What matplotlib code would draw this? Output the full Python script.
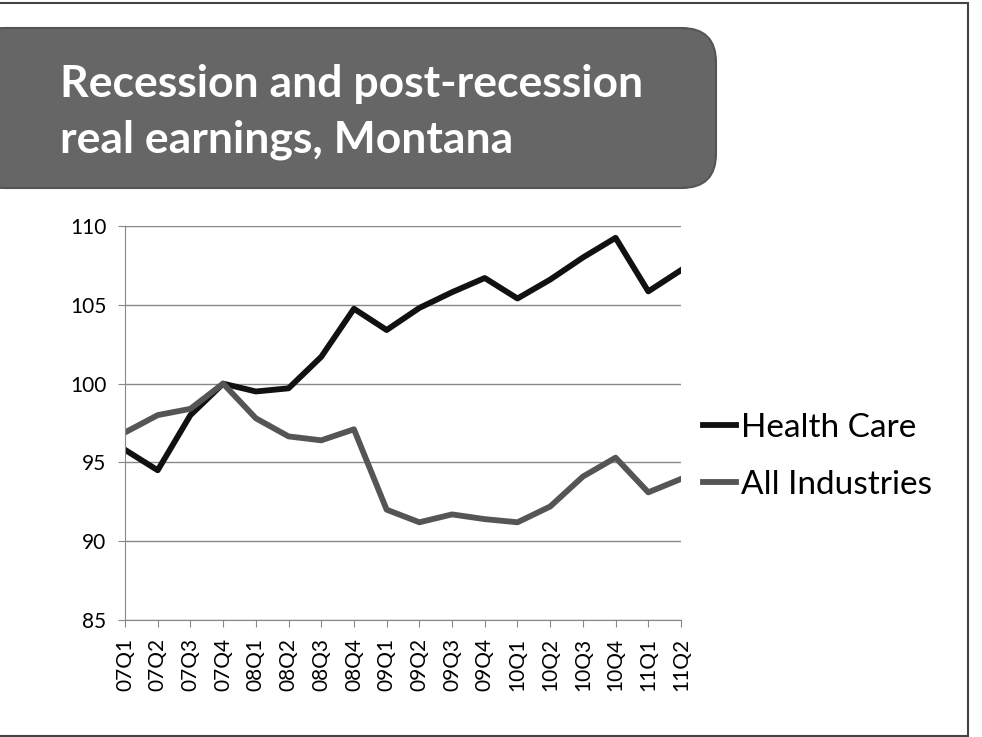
import matplotlib.pyplot as plt
from matplotlib.patches import FancyBboxPatch, Rectangle

quarters = ['07Q1', '07Q2', '07Q3', '07Q4', '08Q1', '08Q2', '08Q3', '08Q4',
            '09Q1', '09Q2', '09Q3', '09Q4', '10Q1', '10Q2', '10Q3', '10Q4',
            '11Q1', '11Q2']
health_care = [95.8, 94.5, 98.0, 100.0, 99.5, 99.7, 101.7, 104.75, 103.4,
               104.8, 105.8, 106.7, 105.4, 106.6, 108.0, 109.25, 105.85, 107.2]
all_industries = [96.9, 98.0, 98.4, 100.0, 97.8, 96.65, 96.4, 97.1, 92.0,
                  91.2, 91.7, 91.4, 91.2, 92.2, 94.1, 95.3, 93.1, 93.95]
y_ticks = [85, 90, 95, 100, 105, 110]

plt.rcParams['font.family'] = ['Lato', 'DejaVu Sans']

fig = plt.figure(figsize=(9.82, 7.37), dpi=100)
W, H = 982, 737

# slide border
fig.patches.append(Rectangle((-0.01, 1.5 / H), 1 - 4 / W, 1 - 4 / H,
                             transform=fig.transFigure, fill=False,
                             edgecolor='#444444', linewidth=1.5))

# title box
fig.patches.append(FancyBboxPatch((-30 / W, 1 - 188 / H), 746 / W, 160 / H,
                                  boxstyle='round,pad=0,rounding_size=0.035',
                                  transform=fig.transFigure,
                                  facecolor='#666666', edgecolor='#555555',
                                  linewidth=1.5, mutation_aspect=W / H))
fig.text(60 / W, 1 - 97 / H, 'Recession and post-recession',
         color='white', fontsize=32, fontweight='bold', va='baseline')
fig.text(60 / W, 1 - 153 / H, 'real earnings, Montana',
         color='white', fontsize=32, fontweight='bold', va='baseline')

ax = fig.add_axes([125 / W, 1 - 620 / H, 556 / W, 394 / H])
x = range(len(quarters))
ax.plot(x, health_care, color='#111111', linewidth=4.2, label='Health Care')
ax.plot(x, all_industries, color='#555555', linewidth=4.2,
        label='All Industries')

ax.set_xlim(0, len(quarters) - 1)
ax.set_ylim(85, 110)
ax.set_yticks(y_ticks)
ax.set_xticks(list(x))
ax.set_xticklabels(quarters, rotation=90)
ax.tick_params(axis='both', labelsize=15, color='#888888', length=5)
ax.tick_params(axis='y', pad=8.5)
ax.tick_params(axis='x', pad=8)
ax.grid(axis='y', color='#888888', linewidth=1)
ax.set_axisbelow(True)
for s in ['top', 'right']:
    ax.spines[s].set_visible(False)
for s in ['left', 'bottom']:
    ax.spines[s].set_color('#888888')

ax.legend(loc='center left', bbox_to_anchor=(0.985, 0.415), frameon=False,
          fontsize=24, handlelength=1.0, handletextpad=0.15,
          labelspacing=0.8, borderaxespad=0.5)

fig.savefig('out.png', dpi=100)
